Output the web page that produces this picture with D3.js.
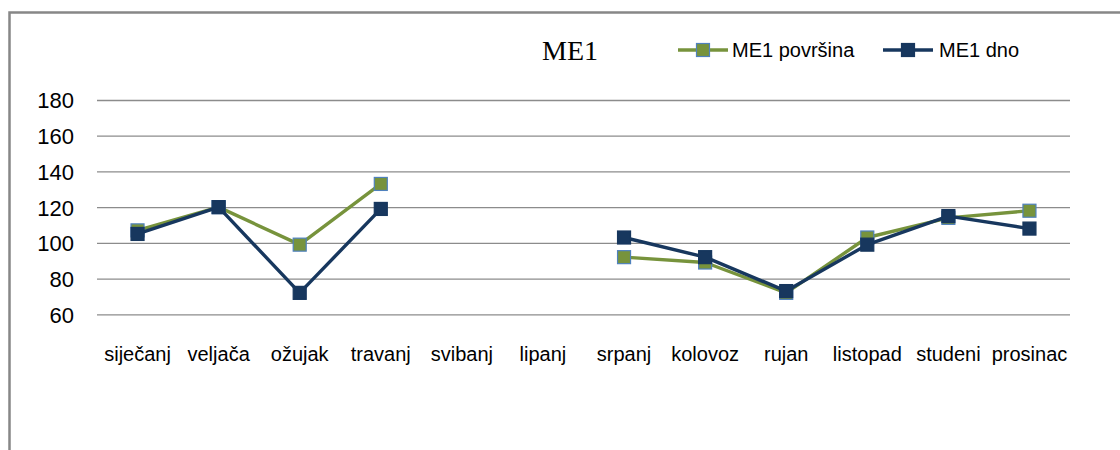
<!DOCTYPE html>
<html>
<head>
<meta charset="utf-8">
<script src="https://cdn.jsdelivr.net/npm/d3@7"></script>
<style>
  html, body { margin: 0; padding: 0; background: #fff; }
  svg { display: block; }
</style>
</head>
<body>
<svg id="chart" width="1120" height="450"></svg>
<script>
const categories = ["siječanj","veljača","ožujak","travanj","svibanj","lipanj","srpanj","kolovoz","rujan","listopad","studeni","prosinac"];
const povrsina = [107, 120, 99, 133, null, null, 92, 89, 72, 103, 114, 118];
const dno      = [105, 120, 72, 119, null, null, 103, 92, 73, 99, 115, 108];
const yTicks = [60, 80, 100, 120, 140, 160, 180];
const seriesNames = ["ME1 površina", "ME1 dno"];
const titleText = "ME1";

const svg = d3.select("#chart");

// outer frame
svg.append("rect")
  .attr("x", 9.5).attr("y", 12.5)
  .attr("width", 1200).attr("height", 500)
  .attr("fill", "#fff")
  .attr("stroke", "#878787").attr("stroke-width", 2.5);

const plot = { left: 97, right: 1070, top: 100, bottom: 314.3 };

const x = d3.scaleBand().domain(categories).range([plot.left, plot.right]);
const y = d3.scaleLinear().domain([60, 180]).range([plot.bottom, plot.top]);

// gridlines + y labels
const yAxis = d3.axisLeft(y).tickValues(yTicks).tickSize(-(plot.right - plot.left)).tickPadding(23).tickFormat(d3.format("d"));
const gy = svg.append("g").attr("transform", `translate(${plot.left},0)`).call(yAxis);
gy.select(".domain").remove();
gy.selectAll(".tick line").attr("stroke", "#8c8c8c").attr("stroke-width", 1.3);
gy.selectAll(".tick text")
  .attr("font-family", "'Liberation Sans', Arial, sans-serif")
  .attr("font-size", 22)
  .attr("fill", "#000")
  .attr("dy", "0.36em");

// x labels
const xAxis = d3.axisBottom(x).tickSize(0).tickPadding(0);
const gx = svg.append("g").attr("transform", `translate(0,${plot.bottom + 47})`).call(xAxis);
gx.select(".domain").remove();
gx.selectAll(".tick text")
  .attr("font-family", "'Liberation Sans', Arial, sans-serif")
  .attr("font-size", 20)
  .attr("fill", "#000")
  .attr("dy", 0);

const series = [
  { name: seriesNames[0], values: povrsina, color: "#77933C", markerStroke: "#4F81BD" },
  { name: seriesNames[1], values: dno, color: "#17375E", markerStroke: "#17375E" }
];

const cx = c => x(c) + x.bandwidth() / 2;
const line = d3.line()
  .defined(d => d.v !== null)
  .x(d => cx(d.c))
  .y(d => y(d.v));

const ms = 13;
series.forEach(s => {
  const data = categories.map((c, i) => ({ c, v: s.values[i] }));
  svg.append("path")
    .datum(data)
    .attr("fill", "none")
    .attr("stroke", s.color)
    .attr("stroke-width", 3.4)
    .attr("stroke-linejoin", "round")
    .attr("d", line);
  svg.append("g").selectAll("rect")
    .data(data.filter(d => d.v !== null))
    .join("rect")
    .attr("x", d => cx(d.c) - ms / 2)
    .attr("y", d => y(d.v) - ms / 2)
    .attr("width", ms).attr("height", ms)
    .attr("fill", s.color)
    .attr("stroke", s.markerStroke)
    .attr("stroke-width", 1.2);
});

// title
svg.append("text")
  .attr("x", 570).attr("y", 60)
  .attr("text-anchor", "middle")
  .attr("font-family", "'Liberation Serif', 'Times New Roman', serif")
  .attr("font-size", 28)
  .attr("fill", "#000")
  .text(titleText);

// legend
const legendItems = [
  { s: series[0], x0: 678, tx: 732 },
  { s: series[1], x0: 883, tx: 939 }
];
const ly = 50;
legendItems.forEach(li => {
  svg.append("line")
    .attr("x1", li.x0).attr("x2", li.x0 + 50)
    .attr("y1", ly).attr("y2", ly)
    .attr("stroke", li.s.color).attr("stroke-width", 3.4);
  svg.append("rect")
    .attr("x", li.x0 + 25 - 6.5).attr("y", ly - 6.5)
    .attr("width", 13).attr("height", 13)
    .attr("fill", li.s.color)
    .attr("stroke", li.s.markerStroke).attr("stroke-width", 1.2);
  svg.append("text")
    .attr("x", li.tx).attr("y", ly)
    .attr("dy", "0.36em")
    .attr("font-family", "'Liberation Sans', Arial, sans-serif")
    .attr("font-size", 20)
    .attr("fill", "#000")
    .text(li.s.name);
});
</script>
</body>
</html>
